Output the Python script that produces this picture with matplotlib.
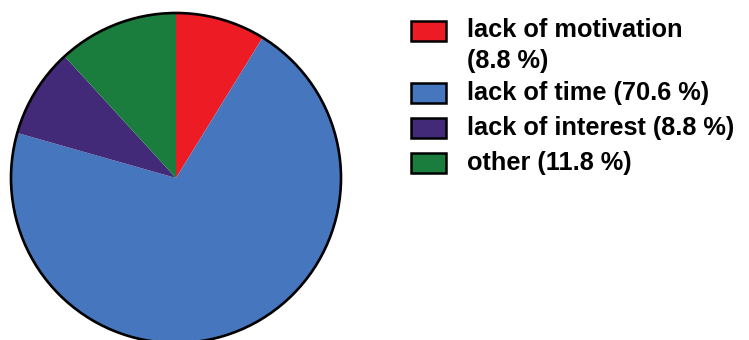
import matplotlib.pyplot as plt
from matplotlib.patches import Rectangle, Circle

labels = ["lack of motivation\n(8.8 %)", "lack of time (70.6 %)", "lack of interest (8.8 %)", "other (11.8 %)"]
shares = [8.8, 70.6, 8.8, 11.8]
colors = ["#ED1C24", "#4677BE", "#432A78", "#1A7D3E"]

W, H = 749, 340
fig = plt.figure(figsize=(W / 100, H / 100), dpi=100)
ax = fig.add_axes([0, 0, 1, 1])

# pie in pixel coords (y flipped)
cx, cy, r = 176, H - 178, 165
ax.pie(shares, colors=colors, startangle=90, counterclock=False,
       center=(cx, cy), radius=r, wedgeprops=dict(linewidth=0))
ax.add_patch(Circle((cx, cy), r, fill=False, edgecolor="black", linewidth=1.9))

# legend drawn by hand
rows = [31, 93, 128, 163]
for lab, col, y in zip(labels, colors, rows):
    ax.add_patch(Rectangle((411, H - y - 10), 35, 20, facecolor=col,
                           edgecolor="black", linewidth=1.8))
    nl = lab.count("\n")
    ax.text(467, H - y - 14.5 * nl, lab, fontsize=18.3, fontweight="bold",
            family="Liberation Sans", va="center", linespacing=1.32)

ax.set_xlim(0, W)
ax.set_ylim(0, H)
ax.set_aspect("equal")
ax.axis("off")
fig.savefig("out.png", dpi=100)
